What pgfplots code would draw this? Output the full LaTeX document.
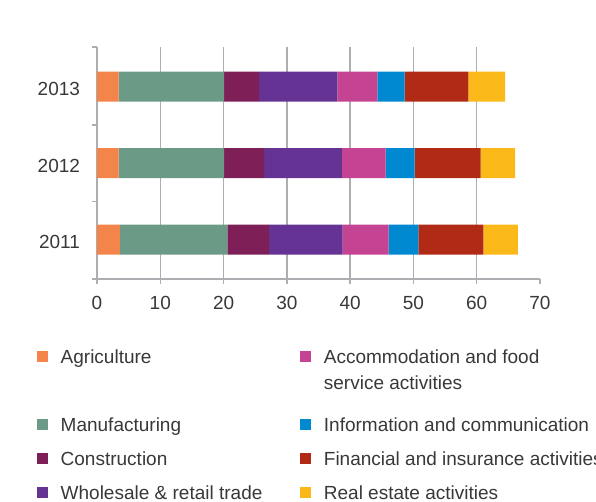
\documentclass[border=0pt]{standalone}
\usepackage{pgfplots}
\pgfplotsset{compat=1.18}
\usepackage{fontspec}
\setmainfont{Liberation Sans}
\definecolor{cAgr}{HTML}{F4854A}
\definecolor{cMan}{HTML}{6B9A87}
\definecolor{cCon}{HTML}{7E1F58}
\definecolor{cWho}{HTML}{643393}
\definecolor{cAcc}{HTML}{C44393}
\definecolor{cInf}{HTML}{0088D0}
\definecolor{cFin}{HTML}{B02A16}
\definecolor{cRea}{HTML}{FBB819}
\definecolor{gridc}{HTML}{ADADB2}
\definecolor{txt}{HTML}{383838}
\begin{document}
\begin{tikzpicture}
\useasboundingbox (-97bp,-223bp) rectangle (499bp,279bp);
\begin{axis}[
  at={(0,0)}, anchor=south west,
  scale only axis, width=443bp, height=232bp,
  xbar stacked, bar width=30bp,
  xmin=0, xmax=70, ymin=-0.514, ymax=2.519,
  xtick={0,10,...,60},
  xmajorgrids=true,
  extra x ticks={70}, extra x tick style={grid=none},
  ytick={0,1,2}, yticklabels={2011,2012,2013},
  minor ytick={-0.514,0.5,1.5,2.519},
  ymajorgrids=false, yminorgrids=false,
  axis x line*=bottom, axis y line*=left,
  axis line style={draw=gridc, line width=1.3bp, -},
  tick align=outside,
  major tick length=5bp, minor tick length=5bp,
  every tick/.style={draw=gridc, line width=1.3bp},
  major y tick style={draw=none},
  major grid style={draw=gridc, line width=1.3bp},
  /pgf/number format/assume math mode=true,
  tick label style={font=\fontsize{19bp}{26bp}\selectfont, text=txt},
  xticklabel style={yshift=-9bp},
  yticklabel style={xshift=-8.5bp, yshift=-2.5bp},
  legend columns=5, transpose legend,
  legend cell align=left,
  legend style={at={(axis description cs:-0.1354,-0.306)}, anchor=north west,
    draw=none, fill=none, inner sep=0pt, row sep=16.5bp,
    font=\fontsize{19bp}{26bp}\selectfont,
    nodes={inner sep=0pt, text height=13.5bp, text depth=4bp, text=txt},
    /tikz/every odd column/.append style={column sep=13bp},
    /tikz/every even column/.append style={column sep=38bp}},
  legend image code/.code={\fill[#1] (0bp,-3bp) rectangle (10.5bp,7.5bp);},
]
\addplot[fill=cAgr, draw=none] coordinates {(3.6,0) (3.4,1) (3.4,2)};
\addlegendentry{Agriculture}
\addlegendimage{empty legend}
\addlegendentry{\strut}
\addplot[fill=cMan, draw=none] coordinates {(17.0,0) (16.7,1) (16.7,2)};
\addlegendentry{Manufacturing}
\addplot[fill=cCon, draw=none] coordinates {(6.6,0) (6.3,1) (5.5,2)};
\addlegendentry{Construction}
\addplot[fill=cWho, draw=none] coordinates {(11.6,0) (12.3,1) (12.4,2)};
\addlegendentry{Wholesale \& retail trade}
\addplot[fill=cAcc, draw=none] coordinates {(7.3,0) (6.9,1) (6.3,2)};
\addlegendentry{\rlap{\smash{\raisebox{-26bp}{service activities}}}Accommodation and food}
\addlegendimage{empty legend}
\addlegendentry{\strut}
\addplot[fill=cInf, draw=none] coordinates {(4.7,0) (4.6,1) (4.3,2)};
\addlegendentry{Information and communication}
\addplot[fill=cFin, draw=none] coordinates {(10.25,0) (10.4,1) (10.1,2)};
\addlegendentry{Financial and insurance activities}
\addplot[fill=cRea, draw=none] coordinates {(5.45,0) (5.45,1) (5.8,2)};
\addlegendentry{Real estate activities}
\end{axis}
\end{tikzpicture}
\end{document}
